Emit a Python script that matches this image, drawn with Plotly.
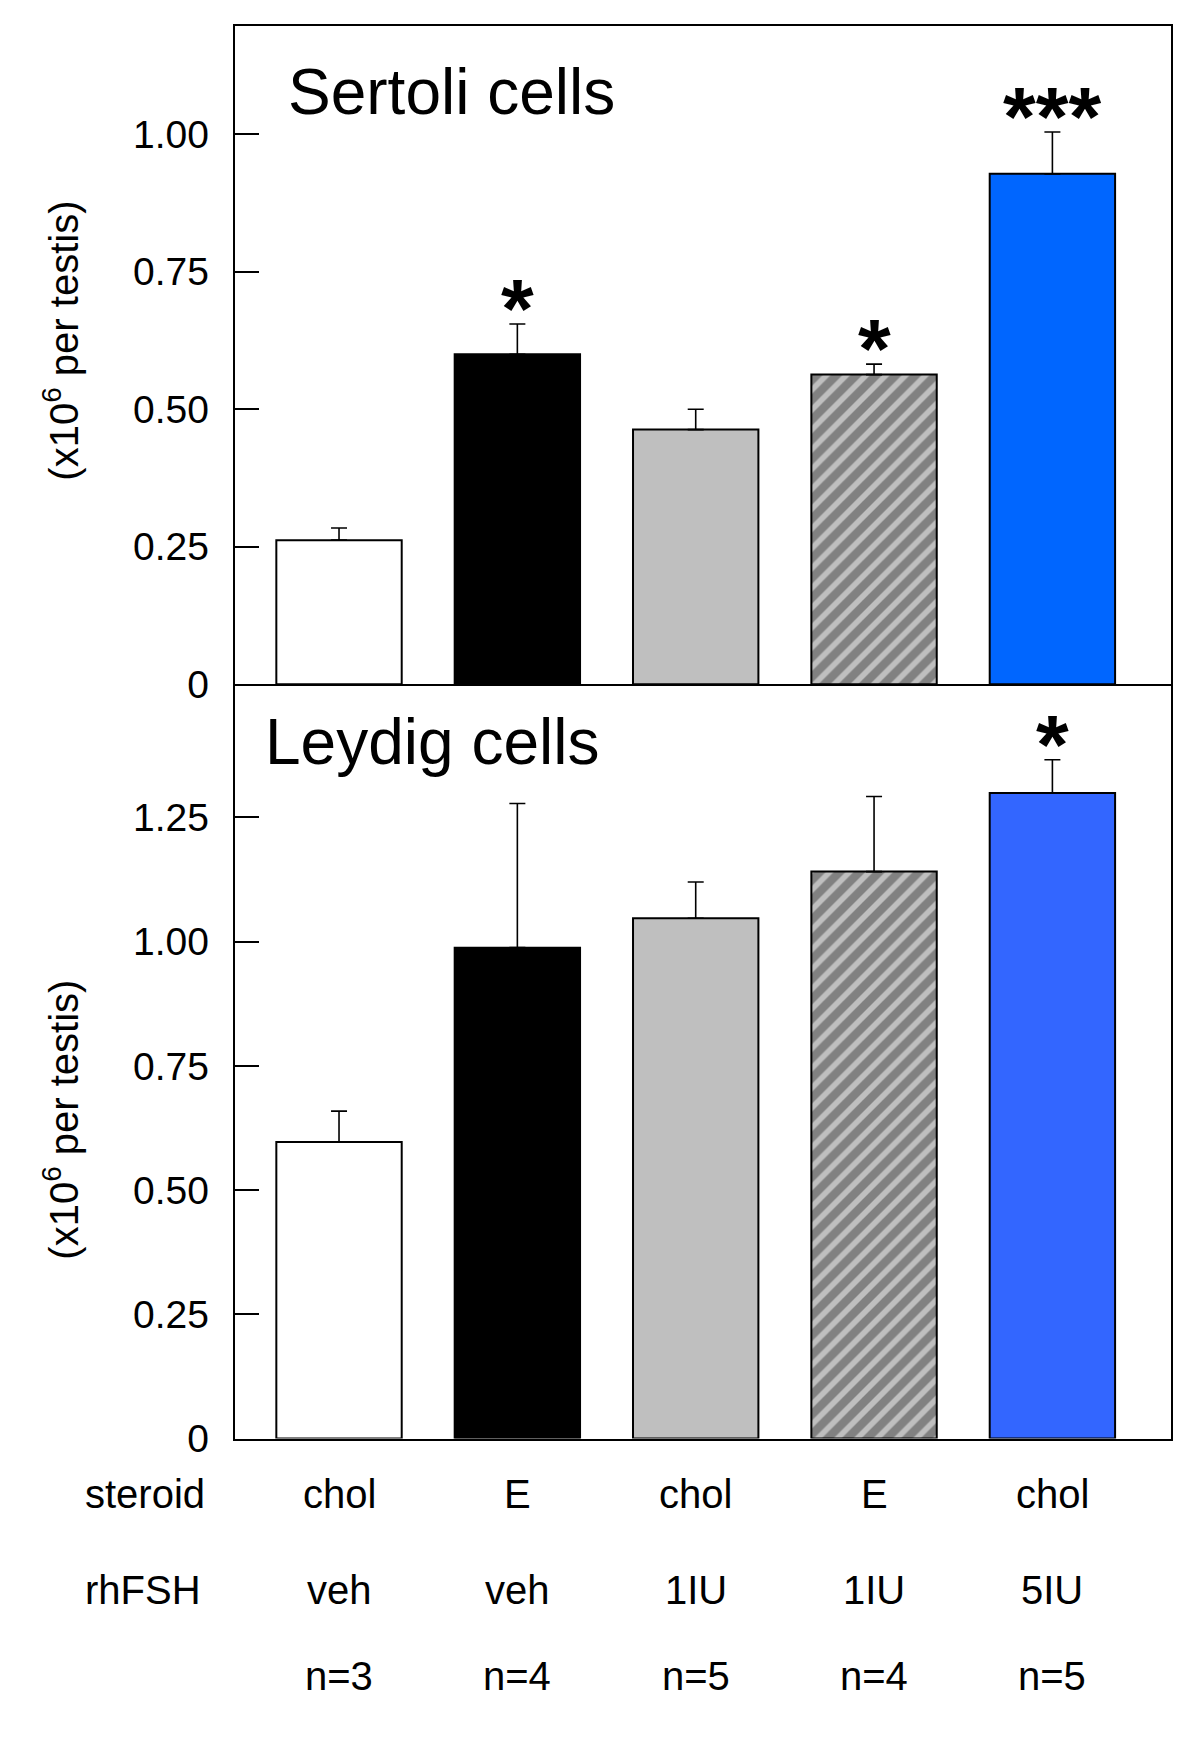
import plotly.graph_objects as go

# ---------------- data ----------------
groups = ["chol / veh", "E / veh", "chol / 1IU", "E / 1IU", "chol / 5IU"]
steroid = ["chol", "E", "chol", "E", "chol"]
rhfsh = ["veh", "veh", "1IU", "1IU", "5IU"]
n_labels = ["n=3", "n=4", "n=5", "n=4", "n=5"]

sertoli_mean = [0.262, 0.600, 0.463, 0.563, 0.928]
sertoli_sem = [0.022, 0.055, 0.037, 0.019, 0.076]
sertoli_sig = ["", "*", "", "*", "***"]

leydig_mean = [0.597, 0.988, 1.047, 1.141, 1.299]
leydig_sem = [0.062, 0.290, 0.073, 0.151, 0.067]
leydig_sig = ["", "", "", "", "*"]

top_tickvals = [0, 0.25, 0.5, 0.75, 1.0]
top_ticktext = ["0", "0.25", "0.50", "0.75", "1.00"]
bot_tickvals = [0, 0.25, 0.5, 0.75, 1.0, 1.25]
bot_ticktext = ["0", "0.25", "0.50", "0.75", "1.00", "1.25"]

# ---------------- styles ----------------
top_colors = ["#ffffff", "#000000", "#bfbfbf", "#bfbfbf", "#0066ff"]
bot_colors = ["#ffffff", "#000000", "#bfbfbf", "#bfbfbf", "#3366ff"]
hatch = ["", "", "", "/", ""]
FONT = "Liberation Sans, Arial, Helvetica, sans-serif"
W, LH = 1200, 1743


def py(Y):
    """pixel row -> paper fraction"""
    return 1 - Y / LH


x_dom = [235.4 / W, 1171 / W]
top_dom = [py(693), py(26.2)]
bot_dom = [py(1457), py(693)]


def bar_trace(means, sems, colors, xa, ya):
    return go.Bar(
        x=groups, y=means, xaxis=xa, yaxis=ya, width=0.703,
        marker=dict(
            color=colors,
            line=dict(color="black", width=2),
            pattern=dict(shape=hatch, fgcolor="black", bgcolor=colors,
                         size=14, solidity=0.6),
        ),
        error_y=dict(type="data", symmetric=False, array=sems,
                     arrayminus=[0] * len(sems), color="black",
                     thickness=1.6, width=8),
        showlegend=False, hoverinfo="skip",
    )


fig = go.Figure()
fig.add_trace(bar_trace(sertoli_mean, sertoli_sem, top_colors, "x", "y"))
fig.add_trace(bar_trace(leydig_mean, leydig_sem, bot_colors, "x2", "y2"))

axis_common = dict(showgrid=False, zeroline=False, showline=True, mirror=True,
                   linecolor="black", linewidth=1.5)
xcommon = dict(axis_common, showticklabels=False, ticks="", range=[-0.581, 4.665],
               categoryorder="array", categoryarray=groups, domain=x_dom)
ycommon = dict(axis_common, ticks="inside", ticklen=24, tickwidth=1.5,
               tickcolor="black", ticklabelstandoff=17,
               tickfont=dict(family=FONT, size=39, color="black"))

fig.update_layout(
    width=W, height=LH,
    margin=dict(l=0, r=0, t=0, b=0),
    paper_bgcolor="white", plot_bgcolor="white",
    xaxis=dict(xcommon, anchor="y"),
    xaxis2=dict(xcommon, anchor="y2", mirror=False),
    yaxis=dict(ycommon, domain=top_dom, range=[0, 1.197],
               tickvals=top_tickvals, ticktext=top_ticktext, anchor="x"),
    yaxis2=dict(ycommon, domain=bot_dom, range=[0, 1.518],
                tickvals=bot_tickvals, ticktext=bot_ticktext, anchor="x2"),
)

ann = []
# significance stars
for xs, ms, es, sig, xr, yr in [
    (groups, sertoli_mean, sertoli_sem, sertoli_sig, "x", "y"),
    (groups, leydig_mean, leydig_sem, leydig_sig, "x2", "y2"),
]:
    for g, m, e, s in zip(xs, ms, es, sig):
        if s:
            ann.append(dict(x=g, y=m + e, xref=xr, yref=yr, text=s,
                            showarrow=False, xanchor="center", yanchor="bottom",
                            yshift=-34,
                            font=dict(family=FONT, size=84, color="black",
                                      weight="bold")))

# panel titles
ann.append(dict(x=0.054, y=0.900, xref="x domain", yref="y domain",
                text="Sertoli cells", showarrow=False, xanchor="left",
                yanchor="middle", font=dict(family=FONT, size=64, color="black")))
ann.append(dict(x=0.029, y=0.923, xref="x2 domain", yref="y2 domain",
                text="Leydig cells", showarrow=False, xanchor="left",
                yanchor="middle", font=dict(family=FONT, size=64, color="black")))

# y-axis titles
for Y in [345, 1134]:
    ann.append(dict(x=61 / W, y=py(Y), xref="paper", yref="paper",
                    text="(x10<sup>6</sup> per testis)", textangle=-90,
                    showarrow=False, xanchor="center", yanchor="middle",
                    font=dict(family=FONT, size=40, color="black")))

# bottom table labels
row_y = [py(1513), py(1610), py(1697)]
ann.append(dict(x=83 / W, y=row_y[0], xref="paper", yref="paper", text="steroid",
                showarrow=False, xanchor="left", yanchor="middle",
                font=dict(family=FONT, size=40, color="black")))
ann.append(dict(x=83 / W, y=row_y[1], xref="paper", yref="paper", text="rhFSH",
                showarrow=False, xanchor="left", yanchor="middle",
                font=dict(family=FONT, size=40, color="black")))
for row, labels in zip(row_y, [steroid, rhfsh, n_labels]):
    for g, lab in zip(groups, labels):
        ann.append(dict(x=g, y=row, xref="x2", yref="paper", text=lab,
                        showarrow=False, xanchor="center", yanchor="middle",
                        font=dict(family=FONT, size=40, color="black")))

fig.update_layout(annotations=ann)

fig.write_html(
    "out.html",
    config={"displayModeBar": False},
    post_script=(
        "document.documentElement.style.margin='0';"
        "document.body.style.margin='0';"
    ),
)
